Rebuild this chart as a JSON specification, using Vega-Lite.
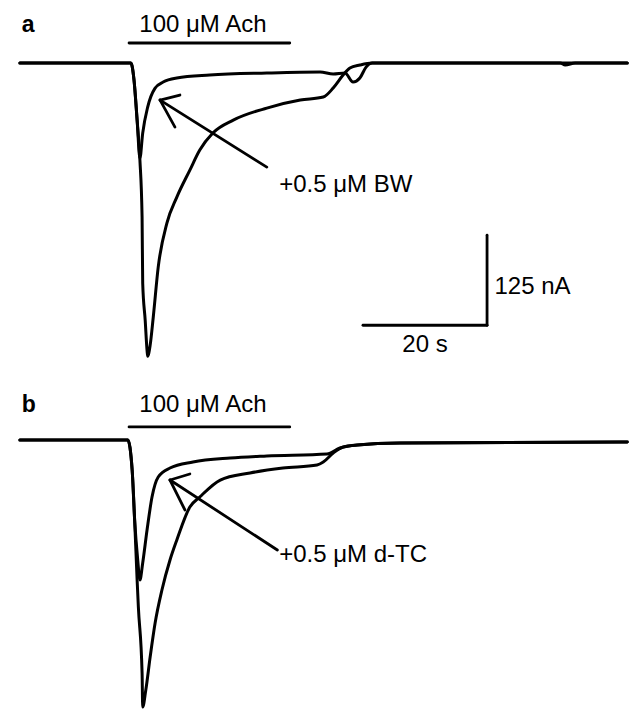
{
  "$schema": "https://vega.github.io/schema/vega-lite/v6.json",
  "padding": 0,
  "spacing": 0,
  "bounds": "flush",
  "background": "white",
  "config": {"view": {"stroke": null}, "text": {"font": "Liberation Sans", "fontSize": 24, "color": "black"}},
  "datasets": {
    "traces": [
      {"panel": "a", "series": "control", "k": 0, "t": 0, "i": 0},
      {"panel": "a", "series": "control", "k": 1, "t": 17.9, "i": 0},
      {"panel": "a", "series": "control", "k": 2, "t": 18.4, "i": -23.6},
      {"panel": "a", "series": "control", "k": 3, "t": 18.9, "i": -79.2},
      {"panel": "a", "series": "control", "k": 4, "t": 19.35, "i": -134.7},
      {"panel": "a", "series": "control", "k": 5, "t": 19.7, "i": -213.9},
      {"panel": "a", "series": "control", "k": 6, "t": 19.8, "i": -305.6},
      {"panel": "a", "series": "control", "k": 7, "t": 20.2, "i": -356.9},
      {"panel": "a", "series": "control", "k": 8, "t": 20.5, "i": -398.6},
      {"panel": "a", "series": "control", "k": 9, "t": 20.6, "i": -406.9},
      {"panel": "a", "series": "control", "k": 10, "t": 21.0, "i": -391.7},
      {"panel": "a", "series": "control", "k": 11, "t": 21.5, "i": -352.8},
      {"panel": "a", "series": "control", "k": 12, "t": 22.3, "i": -283.3},
      {"panel": "a", "series": "control", "k": 13, "t": 23.7, "i": -222.2},
      {"panel": "a", "series": "control", "k": 14, "t": 25.3, "i": -186.1},
      {"panel": "a", "series": "control", "k": 15, "t": 27.4, "i": -148.6},
      {"panel": "a", "series": "control", "k": 16, "t": 29.0, "i": -120.8},
      {"panel": "a", "series": "control", "k": 17, "t": 31.1, "i": -97.2},
      {"panel": "a", "series": "control", "k": 18, "t": 34.4, "i": -79.2},
      {"panel": "a", "series": "control", "k": 19, "t": 39.8, "i": -62.5},
      {"panel": "a", "series": "control", "k": 20, "t": 45.2, "i": -51.4},
      {"panel": "a", "series": "control", "k": 21, "t": 48.9, "i": -47.2},
      {"panel": "a", "series": "control", "k": 22, "t": 50.5, "i": -34.7},
      {"panel": "a", "series": "control", "k": 23, "t": 52.1, "i": -16.7},
      {"panel": "a", "series": "control", "k": 24, "t": 53.2, "i": -6.9},
      {"panel": "a", "series": "control", "k": 25, "t": 54.8, "i": -2.8},
      {"panel": "a", "series": "control", "k": 26, "t": 56.8, "i": 0},
      {"panel": "a", "series": "control", "k": 27, "t": 97.9, "i": 0},
      {"panel": "a", "series": "drug", "k": 0, "t": 0, "i": 0},
      {"panel": "a", "series": "drug", "k": 1, "t": 17.9, "i": 0},
      {"panel": "a", "series": "drug", "k": 2, "t": 18.4, "i": -23.6},
      {"panel": "a", "series": "drug", "k": 3, "t": 18.9, "i": -79.2},
      {"panel": "a", "series": "drug", "k": 4, "t": 19.35, "i": -131.9},
      {"panel": "a", "series": "drug", "k": 5, "t": 19.8, "i": -97.2},
      {"panel": "a", "series": "drug", "k": 6, "t": 20.6, "i": -61.1},
      {"panel": "a", "series": "drug", "k": 7, "t": 21.8, "i": -34.7},
      {"panel": "a", "series": "drug", "k": 8, "t": 23.1, "i": -26.4},
      {"panel": "a", "series": "drug", "k": 9, "t": 25.3, "i": -20.8},
      {"panel": "a", "series": "drug", "k": 10, "t": 30.6, "i": -16.7},
      {"panel": "a", "series": "drug", "k": 11, "t": 39.8, "i": -13.9},
      {"panel": "a", "series": "drug", "k": 12, "t": 48.4, "i": -12.5},
      {"panel": "a", "series": "drug", "k": 13, "t": 50.5, "i": -15.3},
      {"panel": "a", "series": "drug", "k": 14, "t": 52.4, "i": -13.9},
      {"panel": "a", "series": "drug", "k": 15, "t": 53.7, "i": -26.4},
      {"panel": "a", "series": "drug", "k": 16, "t": 54.8, "i": -20.8},
      {"panel": "a", "series": "drug", "k": 17, "t": 55.8, "i": -5.6},
      {"panel": "a", "series": "drug", "k": 18, "t": 56.8, "i": 0},
      {"panel": "a", "series": "drug", "k": 19, "t": 87.1, "i": 0},
      {"panel": "a", "series": "drug", "k": 20, "t": 87.9, "i": -2.8},
      {"panel": "a", "series": "drug", "k": 21, "t": 89.5, "i": 0},
      {"panel": "a", "series": "drug", "k": 22, "t": 97.9, "i": 0},
      {"panel": "b", "series": "control", "k": 0, "t": 0, "i": 0},
      {"panel": "b", "series": "control", "k": 1, "t": 17.4, "i": 0},
      {"panel": "b", "series": "control", "k": 2, "t": 18.1, "i": -41.7},
      {"panel": "b", "series": "control", "k": 3, "t": 18.5, "i": -111.1},
      {"panel": "b", "series": "control", "k": 4, "t": 18.9, "i": -194.4},
      {"panel": "b", "series": "control", "k": 5, "t": 19.1, "i": -231.9},
      {"panel": "b", "series": "control", "k": 6, "t": 19.7, "i": -323.6},
      {"panel": "b", "series": "control", "k": 7, "t": 19.8, "i": -370.8},
      {"panel": "b", "series": "control", "k": 8, "t": 20.3, "i": -347.2},
      {"panel": "b", "series": "control", "k": 9, "t": 21.0, "i": -301.4},
      {"panel": "b", "series": "control", "k": 10, "t": 21.8, "i": -254.2},
      {"panel": "b", "series": "control", "k": 11, "t": 22.9, "i": -208.3},
      {"panel": "b", "series": "control", "k": 12, "t": 24.2, "i": -166.7},
      {"panel": "b", "series": "control", "k": 13, "t": 25.3, "i": -138.9},
      {"panel": "b", "series": "control", "k": 14, "t": 27.4, "i": -93.1},
      {"panel": "b", "series": "control", "k": 15, "t": 29.0, "i": -79.2},
      {"panel": "b", "series": "control", "k": 16, "t": 32.3, "i": -55.6},
      {"panel": "b", "series": "control", "k": 17, "t": 37.1, "i": -45.8},
      {"panel": "b", "series": "control", "k": 18, "t": 42.4, "i": -38.9},
      {"panel": "b", "series": "control", "k": 19, "t": 47.9, "i": -34.7},
      {"panel": "b", "series": "control", "k": 20, "t": 48.9, "i": -30.6},
      {"panel": "b", "series": "control", "k": 21, "t": 50.5, "i": -18.1},
      {"panel": "b", "series": "control", "k": 22, "t": 52.1, "i": -9.7},
      {"panel": "b", "series": "control", "k": 23, "t": 54.4, "i": -6.9},
      {"panel": "b", "series": "control", "k": 24, "t": 61.3, "i": -4.2},
      {"panel": "b", "series": "control", "k": 25, "t": 97.9, "i": -2.8},
      {"panel": "b", "series": "drug", "k": 0, "t": 0, "i": 0},
      {"panel": "b", "series": "drug", "k": 1, "t": 17.4, "i": 0},
      {"panel": "b", "series": "drug", "k": 2, "t": 18.1, "i": -41.7},
      {"panel": "b", "series": "drug", "k": 3, "t": 18.5, "i": -111.1},
      {"panel": "b", "series": "drug", "k": 4, "t": 19.0, "i": -166.7},
      {"panel": "b", "series": "drug", "k": 5, "t": 19.35, "i": -194.4},
      {"panel": "b", "series": "drug", "k": 6, "t": 19.8, "i": -170.8},
      {"panel": "b", "series": "drug", "k": 7, "t": 20.5, "i": -125},
      {"panel": "b", "series": "drug", "k": 8, "t": 21.3, "i": -79.2},
      {"panel": "b", "series": "drug", "k": 9, "t": 22.3, "i": -51.4},
      {"panel": "b", "series": "drug", "k": 10, "t": 24.2, "i": -38.9},
      {"panel": "b", "series": "drug", "k": 11, "t": 27.9, "i": -30.6},
      {"panel": "b", "series": "drug", "k": 12, "t": 33.9, "i": -25},
      {"panel": "b", "series": "drug", "k": 13, "t": 39.8, "i": -22.2},
      {"panel": "b", "series": "drug", "k": 14, "t": 49.5, "i": -19.4},
      {"panel": "b", "series": "drug", "k": 15, "t": 51.6, "i": -11.1},
      {"panel": "b", "series": "drug", "k": 16, "t": 54.4, "i": -6.9},
      {"panel": "b", "series": "drug", "k": 17, "t": 61.3, "i": -4.2},
      {"panel": "b", "series": "drug", "k": 18, "t": 97.9, "i": -2.8}
    ],
    "segments": [
      {"panel": "a", "what": "Ach bar", "t": 17.6, "i": 27.8, "t2": 43.5, "i2": 27.8},
      {"panel": "a", "what": "arrow", "t": 39.8, "i": -144.4, "t2": 22.6, "i2": -51.4},
      {"panel": "a", "what": "head1", "t": 22.6, "i": -51.4, "t2": 25.8, "i2": -44.4},
      {"panel": "a", "what": "head2", "t": 22.6, "i": -51.4, "t2": 25.0, "i2": -88.9},
      {"panel": "a", "what": "scale 20 s", "t": 55.3, "i": -363.9, "t2": 75.3, "i2": -363.9},
      {"panel": "a", "what": "scale 125 nA", "t": 75.3, "i": -363.9, "t2": 75.3, "i2": -238.9},
      {"panel": "b", "what": "Ach bar", "t": 17.6, "i": 18.1, "t2": 43.5, "i2": 18.1},
      {"panel": "b", "what": "arrow", "t": 41.5, "i": -152.8, "t2": 24.2, "i2": -55.6},
      {"panel": "b", "what": "head1", "t": 24.2, "i": -55.6, "t2": 27.4, "i2": -47.2},
      {"panel": "b", "what": "head2", "t": 24.2, "i": -55.6, "t2": 26.6, "i2": -97.2}
    ],
    "labels": [
      {"panel": "a", "kind": "panel", "label": "a", "t": 0.3, "i": 52.8},
      {"panel": "a", "kind": "center", "label": "100 μM Ach", "t": 29.5, "i": 52.8},
      {"panel": "a", "kind": "left", "label": "+0.5 μM BW", "t": 41.8, "i": -169.4},
      {"panel": "a", "kind": "left", "label": "125 nA", "t": 76.5, "i": -311},
      {"panel": "a", "kind": "center", "label": "20 s", "t": 65.3, "i": -391.7},
      {"panel": "b", "kind": "panel", "label": "b", "t": 0.3, "i": 48.6},
      {"panel": "b", "kind": "center", "label": "100 μM Ach", "t": 29.5, "i": 48.6},
      {"panel": "b", "kind": "left", "label": "+0.5 μM d-TC", "t": 41.8, "i": -159.7}
    ]
  },
  "vconcat": [
    {
      "width": 631,
      "height": 370,
      "encoding": {
        "x": {"field": "t", "type": "quantitative", "scale": {"domain": [-3.2, 98.5], "nice": false, "zero": false}, "axis": null},
        "y": {"field": "i", "type": "quantitative", "scale": {"domain": [-426, 87.5], "nice": false, "zero": false}, "axis": null}
      },
      "layer": [
        {
          "data": {"name": "traces"},
          "transform": [{"filter": "datum.panel === 'a'"}],
          "mark": {"type": "line", "color": "black", "strokeWidth": 3, "strokeJoin": "round", "strokeCap": "round", "interpolate": "monotone"},
          "encoding": {"detail": {"field": "series"}, "order": {"field": "k", "type": "quantitative"}}
        },
        {
          "data": {"name": "segments"},
          "transform": [{"filter": "datum.panel === 'a'"}],
          "mark": {"type": "rule", "color": "black", "strokeWidth": 2.8, "strokeCap": "round"},
          "encoding": {"x2": {"field": "t2"}, "y2": {"field": "i2"}}
        },
        {
          "data": {"name": "labels"},
          "transform": [{"filter": "datum.panel === 'a' && datum.kind === 'panel'"}],
          "mark": {"type": "text", "align": "left", "baseline": "middle", "fontWeight": "bold", "fontSize": 23},
          "encoding": {"text": {"field": "label"}}
        },
        {
          "data": {"name": "labels"},
          "transform": [{"filter": "datum.panel === 'a' && datum.kind === 'center'"}],
          "mark": {"type": "text", "align": "center", "baseline": "middle"},
          "encoding": {"text": {"field": "label"}}
        },
        {
          "data": {"name": "labels"},
          "transform": [{"filter": "datum.panel === 'a' && datum.kind === 'left'"}],
          "mark": {"type": "text", "align": "left", "baseline": "middle"},
          "encoding": {"text": {"field": "label"}}
        }
      ]
    },
    {
      "width": 631,
      "height": 340,
      "encoding": {
        "x": {"field": "t", "type": "quantitative", "scale": {"domain": [-3.2, 98.5], "nice": false, "zero": false}, "axis": null},
        "y": {"field": "i", "type": "quantitative", "scale": {"domain": [-375, 97.2], "nice": false, "zero": false}, "axis": null}
      },
      "layer": [
        {
          "data": {"name": "traces"},
          "transform": [{"filter": "datum.panel === 'b'"}],
          "mark": {"type": "line", "color": "black", "strokeWidth": 3, "strokeJoin": "round", "strokeCap": "round", "interpolate": "monotone"},
          "encoding": {"detail": {"field": "series"}, "order": {"field": "k", "type": "quantitative"}}
        },
        {
          "data": {"name": "segments"},
          "transform": [{"filter": "datum.panel === 'b'"}],
          "mark": {"type": "rule", "color": "black", "strokeWidth": 2.8, "strokeCap": "round"},
          "encoding": {"x2": {"field": "t2"}, "y2": {"field": "i2"}}
        },
        {
          "data": {"name": "labels"},
          "transform": [{"filter": "datum.panel === 'b' && datum.kind === 'panel'"}],
          "mark": {"type": "text", "align": "left", "baseline": "middle", "fontWeight": "bold", "fontSize": 23},
          "encoding": {"text": {"field": "label"}}
        },
        {
          "data": {"name": "labels"},
          "transform": [{"filter": "datum.panel === 'b' && datum.kind === 'center'"}],
          "mark": {"type": "text", "align": "center", "baseline": "middle"},
          "encoding": {"text": {"field": "label"}}
        },
        {
          "data": {"name": "labels"},
          "transform": [{"filter": "datum.panel === 'b' && datum.kind === 'left'"}],
          "mark": {"type": "text", "align": "left", "baseline": "middle"},
          "encoding": {"text": {"field": "label"}}
        }
      ]
    }
  ]
}
